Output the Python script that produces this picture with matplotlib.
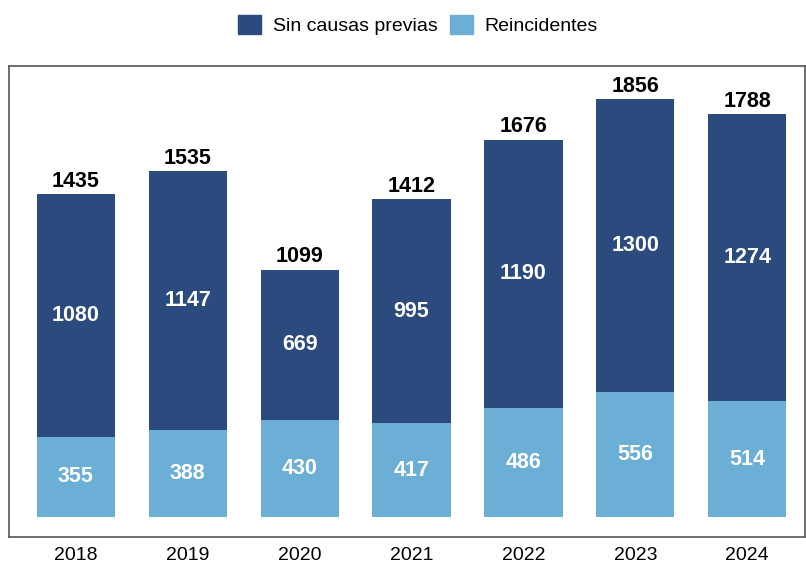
import matplotlib
matplotlib.use("Agg")
import matplotlib.pyplot as plt
from matplotlib.patches import Patch

plt.rcParams['font.family'] = ['Liberation Sans', 'DejaVu Sans']

years = ["2018", "2019", "2020", "2021", "2022", "2023", "2024"]
reincidentes = [355, 388, 430, 417, 486, 556, 514]
sin_causas = [1080, 1147, 669, 995, 1190, 1300, 1274]
totales = [1435, 1535, 1099, 1412, 1676, 1856, 1788]

dark = "#2B4B7F"
light = "#6BAED6"

fig = plt.figure(figsize=(8.06, 5.63), dpi=100)
ax = fig.add_axes([0.0112, 0.0462, 0.988, 0.8366])

x = list(range(len(years)))
w = 0.70
ax.bar(x, reincidentes, width=w, color=light)
ax.bar(x, sin_causas, width=w, bottom=reincidentes, color=dark)

for i in x:
    ax.text(i, reincidentes[i] / 2, str(reincidentes[i]), ha='center', va='center',
            color='white', fontsize=15.5, fontweight='bold')
    ax.text(i, reincidentes[i] + sin_causas[i] / 2, str(sin_causas[i]), ha='center', va='center',
            color='white', fontsize=15.5, fontweight='bold')
    ax.text(i, totales[i] + 10, str(totales[i]), ha='center', va='bottom',
            color='black', fontsize=15.5, fontweight='bold')

ax.set_xlim(-0.598, 6.52)
ax.set_ylim(-89, 2003)
ax.set_yticks([])
ax.set_xticks(x)
ax.set_xticklabels(years, fontsize=14)
ax.tick_params(axis='x', length=0, pad=7)
for s in ax.spines.values():
    s.set_color('#555555')
    s.set_linewidth(1.2)

handles = [Patch(color=dark, label="Sin causas previas"), Patch(color=light, label="Reincidentes")]
fig.legend(handles=handles, loc='center', bbox_to_anchor=(418 / 806, 1 - 25 / 563), ncol=2,
           frameon=False, fontsize=14, handlelength=1.18, handleheight=1.08,
           handletextpad=0.62, columnspacing=0.62)

fig.savefig("out.png", dpi=100)
